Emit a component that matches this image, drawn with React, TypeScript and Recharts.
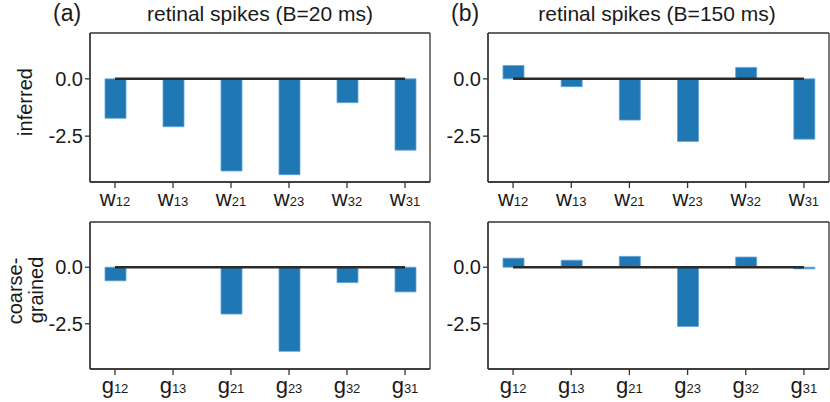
import React from "react";
import { BarChart, Bar, XAxis, YAxis, ReferenceLine, CartesianGrid } from "recharts";

// coupling labels (subscripts) and values
const subs = ["12", "13", "21", "23", "32", "31"];
const inferred20 = [-1.72, -2.09, -4.02, -4.18, -1.04, -3.11];
const inferred150 = [0.58, -0.34, -1.8, -2.73, 0.5, -2.63];
const coarse20 = [-0.6, 0, -2.07, -3.72, -0.68, -1.09];
const coarse150 = [0.4, 0.31, 0.48, -2.62, 0.45, -0.07];
const yTicks = [0, -2.5];
const yDomain: [number, number] = [-4.5, 2];

const FONT = '"Liberation Sans", Arial, sans-serif';
const INK = "#1a1a1a";
const FRAME = "#333";

const SubTick = (props: any) => {
  const { x, y, payload } = props;
  const name: string = payload.value;
  return (
    <text x={x} y={y} dy={16} textAnchor="middle" fill={INK} fontFamily={FONT}>
      <tspan fontSize={22}>{name.charAt(0)}</tspan>
      <tspan fontSize={13}>{name.slice(1)}</tspan>
    </text>
  );
};

// box around the plot area: grid lines only at its edges
const frameH = ({ offset }: any) => [offset.top, offset.top + offset.height];
const frameV = ({ offset }: any) => [offset.left, offset.left + offset.width];

interface PanelProps {
  left: number;
  top: number;
  width: number;
  height: number;
  marginTop: number;
  yWidth: number;
  xHeight: number;
  prefix: string;
  values: number[];
}

const Panel: React.FC<PanelProps> = ({ left, top, width, height, marginTop, yWidth, xHeight, prefix, values }) => {
  const data = subs.map((s, i) => ({ name: prefix + s, value: values[i] }));
  const pad = { left: -4, right: -4 };
  return (
    <div style={{ position: "absolute", left, top }}>
      <BarChart width={width} height={height} data={data} margin={{ top: marginTop, right: 2, left: 0, bottom: 0 }}>
        <CartesianGrid
          horizontalCoordinatesGenerator={frameH}
          verticalCoordinatesGenerator={frameV}
          stroke={FRAME}
          strokeWidth={1.3}
        />
        <XAxis
          dataKey="name"
          height={xHeight}
          padding={pad}
          interval={0}
          tickSize={6}
          tickMargin={2}
          tick={<SubTick />}
          axisLine={{ stroke: FRAME, strokeWidth: 1.3 }}
          tickLine={{ stroke: FRAME, strokeWidth: 1.3 }}
        />
        <YAxis
          width={yWidth}
          domain={yDomain}
          ticks={yTicks}
          allowDataOverflow
          tickSize={5}
          tickMargin={2}
          tickFormatter={(v: number) => v.toFixed(1)}
          tick={{ fontSize: 20, fill: INK, fontFamily: FONT }}
          axisLine={{ stroke: FRAME, strokeWidth: 1.3 }}
          tickLine={{ stroke: FRAME, strokeWidth: 1.3 }}
        />
        <Bar dataKey="value" barSize={21} fill="#1f77b4" stroke="#62a3d8" strokeWidth={0.8} isAnimationActive={false} />
        <ReferenceLine
          segment={[
            { x: data[0].name, y: 0 },
            { x: data[data.length - 1].name, y: 0 },
          ]}
          stroke="#2a2a2a"
          strokeWidth={2.5}
        />
      </BarChart>
    </div>
  );
};

export default function App() {
  return (
    <div style={{ position: "absolute", left: 0, top: 0, width: 830, height: 402, background: "#fff", overflow: "hidden" }}>
      <svg width={830} height={402} style={{ position: "absolute", left: 0, top: 0 }} fontFamily={FONT} fill={INK}>
        <text x={53} y={21} fontSize={23}>(a)</text>
        <text x={260} y={21} fontSize={21} textAnchor="middle">retinal spikes (B=20 ms)</text>
        <text x={451} y={21} fontSize={23}>(b)</text>
        <text x={657} y={21} fontSize={21} textAnchor="middle">retinal spikes (B=150 ms)</text>
        <text x={32} y={102} fontSize={20} textAnchor="middle" transform="rotate(-90 32 102)">inferred</text>
        <text x={22} y={291} fontSize={20} textAnchor="middle" transform="rotate(-90 22 291)">coarse-</text>
        <text x={43} y={290} fontSize={20} textAnchor="middle" transform="rotate(-90 43 290)">grained</text>
      </svg>
      <Panel left={0} top={0} width={432} height={210} marginTop={33} yWidth={90} xHeight={28} prefix="w" values={inferred20} />
      <Panel left={430} top={0} width={401} height={210} marginTop={33} yWidth={58} xHeight={28} prefix="w" values={inferred150} />
      <Panel left={0} top={200} width={432} height={202} marginTop={22} yWidth={90} xHeight={33} prefix="g" values={coarse20} />
      <Panel left={430} top={200} width={401} height={202} marginTop={22} yWidth={58} xHeight={33} prefix="g" values={coarse150} />
    </div>
  );
}
